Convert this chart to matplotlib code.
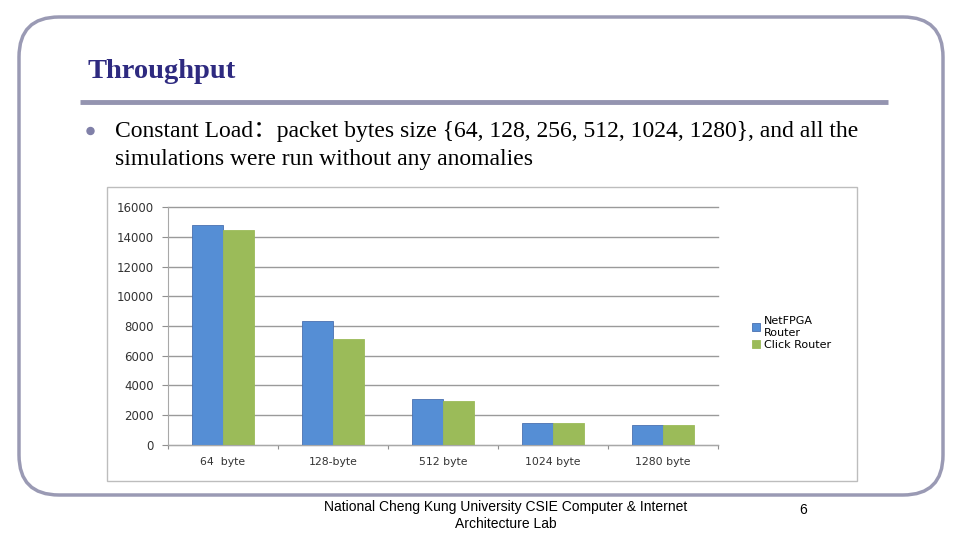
import numpy as np
import matplotlib.pyplot as plt
from matplotlib.patches import FancyBboxPatch, Rectangle, Circle

# Throughput per packet size
categories = ['64  byte', '128-byte', '512 byte', '1024 byte', '1280 byte']
netfpga = [14800, 8350, 3100, 1470, 1290]
click = [14500, 7100, 2950, 1440, 1290]
series_names = ['NetFPGA\nRouter', 'Click Router']
yticks = list(range(0, 16001, 2000))

blue = '#558ed5'
green = '#9bbb59'
frame_col = '#9a9ab4'

fig = plt.figure(figsize=(9.6, 5.4), dpi=100)

# full-figure layer in pixel coordinates for the slide decoration
bg = fig.add_axes([0, 0, 1, 1])
bg.set_xlim(0, 960)
bg.set_ylim(540, 0)
bg.axis('off')

bg.add_patch(FancyBboxPatch((19, 17), 924, 478,
                            boxstyle='round,pad=0,rounding_size=40',
                            fill=False, edgecolor=frame_col, lw=2.5))
bg.plot([80, 888], [101.5, 101.5], color='#9494b0', lw=3.5, solid_capstyle='butt')

bg.text(88, 71, 'Throughput', family='Liberation Serif', fontweight='bold',
        fontsize=20.5, color='#2e2a80', va='center', ha='left')

bg.add_patch(Circle((90.5, 131), 3.5, color='#8080a8'))
text_fam = ['Liberation Serif', 'Noto Sans CJK SC']
bg.text(115, 131, 'Constant Load\uff1apacket bytes size {64, 128, 256, 512, 1024, 1280}, and all the',
        family=text_fam, fontsize=17, va='center', ha='left', color='black')
bg.text(115, 160, 'simulations were run without any anomalies',
        family=text_fam, fontsize=17, va='center', ha='left', color='black')

# chart outer frame
bg.add_patch(Rectangle((107, 187), 750, 294, fill=False, edgecolor='#bdbdbd', lw=1))

bg.text(506, 507, 'National Cheng Kung University CSIE Computer & Internet',
        family='Liberation Sans', fontsize=10, ha='center', va='center')
bg.text(506, 524, 'Architecture Lab', family='Liberation Sans', fontsize=10,
        ha='center', va='center')
bg.text(803, 510, '6', family='Liberation Sans', fontsize=10, ha='center', va='center')

# the bar chart
ax = fig.add_axes([168 / 960, 1 - 444.5 / 540, 550 / 960, 237 / 540])
x = np.arange(len(categories))
w = 0.285
b1 = ax.bar(x - w / 2, netfpga, w, color=blue, edgecolor='#4a70b0', lw=0.6)
b2 = ax.bar(x + w / 2, click, w, color=green, edgecolor='#9bbb59', lw=0.6)

ax.set_xlim(-0.5, len(categories) - 0.5)
ax.set_ylim(0, 16000)
ax.set_yticks(yticks)
ax.set_yticklabels([str(v) for v in yticks])
ax.yaxis.grid(True, color='#9a9a9a', lw=1)
for gl in ax.get_ygridlines():
    gl.set_clip_on(False)
ax.set_axisbelow(True)

ax.set_xticks(np.arange(-0.5, len(categories)), labels=[''] * (len(categories) + 1))
ax.set_xticks(x, labels=categories, minor=True)
ax.tick_params(axis='x', which='minor', length=0, pad=9, labelsize=7.8, labelcolor='#333333')
ax.tick_params(axis='x', which='major', length=3, color='#909090')
ax.tick_params(axis='y', length=4, color='#909090', labelsize=8.5, labelcolor='#333333', pad=6)

for s in ['top', 'right']:
    ax.spines[s].set_visible(False)
for s in ['left', 'bottom']:
    ax.spines[s].set_color('#a8a8a8')

fig.legend([b1, b2], series_names, loc='upper left', bbox_to_anchor=(748 / 960, 1 - 312 / 540),
           frameon=False, fontsize=8, handlelength=0.7, handleheight=0.7,
           handletextpad=0.3, labelspacing=0.15, borderaxespad=0)

fig.savefig('out.png', dpi=100)
